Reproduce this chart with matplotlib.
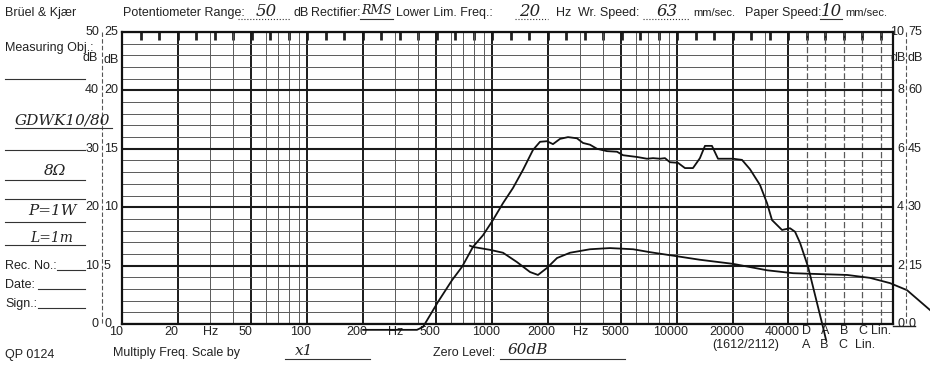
import numpy as np
import matplotlib
matplotlib.use('Agg')
import matplotlib.pyplot as plt
from matplotlib.lines import Line2D
from matplotlib.ticker import NullLocator
from matplotlib.transforms import blended_transform_factory, ScaledTranslation

plt.rcParams['font.family'] = ['Liberation Sans Narrow', 'Liberation Sans', 'DejaVu Sans']

# ---------------- data ----------------
resp_freq = [201, 393, 424, 511, 608, 689, 789, 894, 1012, 1147, 1299, 1471, 1665,
             1818, 1983, 2136, 2331, 2575, 2880, 3104, 3386, 3695, 4183, 4740, 5110,
             6080, 6880, 7420, 8090, 8610, 9160, 10120, 11040, 12200, 13300, 14160,
             15450, 16660, 20080, 22460, 24810, 28100, 30660, 32620, 36950, 40820,
             43450, 46240, 51100, 61500, 63900]
resp_db = [-1.0, -1.0, -0.5, 3.8, 7.5, 9.8, 13.2, 15.2, 17.8, 20.7, 23.3, 26.4, 29.8,
           31.2, 31.3, 30.8, 31.7, 32.0, 31.8, 31.0, 30.7, 30.0, 29.6, 29.5, 28.9,
           28.6, 28.3, 28.4, 28.3, 28.4, 27.7, 27.6, 26.7, 26.7, 28.4, 30.5,
           30.5, 28.3, 28.3, 28.1, 26.5, 23.8, 20.7, 17.8, 16.1, 16.4,
           15.8, 13.9, 9.8, -0.5, -2.7]

lower_freq = [760, 789, 975, 1147, 1365, 1605, 1772, 1983, 2247, 2640, 3386, 4340,
              5790, 7140, 10000, 13300, 20080, 30660, 42400, 52400, 83000, 110500,
              141700, 175000, 233000]
lower_db = [13.4, 13.2, 12.7, 12.2, 10.6, 8.9, 8.4, 9.6, 11.3, 12.2, 12.8, 13.0,
            12.8, 12.3, 11.6, 11.0, 10.3, 9.2, 8.7, 8.6, 8.4, 7.9,
            7.0, 5.8, 2.4]

freq_ticks = [10, 20, 50, 100, 200, 500, 1000, 2000, 5000, 10000, 20000, 40000]
freq_labels = ['10', '20', '50', '100', '200', '500', '1000', '2000', '5000',
               '10000', '20000', '40000']
hz_marks = [30, 300, 3000]
weight_labels = ['D', 'A', 'B', 'C', 'Lin.']
left_db = [0, 10, 20, 30, 40, 50]
left_db_alt = [0, 5, 10, 15, 20, 25]
right_a = [0, 2, 4, 6, 8, 10]
right_b = [0, 15, 30, 45, 60, 75]

# ---------------- figure layout ----------------
W, H = 930, 371
fig = plt.figure(figsize=(W / 100, H / 100), dpi=100)
fig.patch.set_facecolor('white')

def fx(x):
    return x / W

def fy(y):
    return 1 - y / H

ax = fig.add_axes([fx(122), fy(324), (893 - 122) / W, (324 - 32) / H])
ax.set_xscale('log')
x_max = 1000 * 10 ** ((893 - 492) / 185)
ax.set_xlim(10, x_max)
ax.set_ylim(0, 50)
ax.xaxis.set_minor_locator(NullLocator())
ax.set_xticks([])
ax.set_yticks([])
for s in ax.spines.values():
    s.set_linewidth(1.6)
    s.set_color('#111111')

GRID_DARK = '#1a1a1a'
GRID_MID = '#5a5a5a'

# vertical grid
for d in [10, 100, 1000, 10000]:
    for m in range(1, 10):
        f = m * d
        if f > 40000:
            break
        major = m in (1, 2, 5) or f == 40000
        ax.axvline(f, color=GRID_DARK if major else GRID_MID,
                   lw=1.4 if major else 0.7, zorder=1)
weight_lines = 40000 * 10 ** (0.1 * np.arange(1, 6))
for f in weight_lines:
    ax.axvline(f, color=GRID_MID, lw=0.9, ls=(0, (5, 2)), zorder=1)

# horizontal grid
for v in range(0, 51, 2):
    ax.axhline(v, color=GRID_MID, lw=0.7, zorder=1)
for v in range(0, 51, 10):
    ax.axhline(v, color=GRID_DARK, lw=1.5, zorder=1)

# sprocket marks along the top edge
top = ax.secondary_xaxis('top')
top.set_xticks(10 ** (1 + np.arange(1, 42) / 10))
top.xaxis.set_minor_locator(NullLocator())
top.set_xticklabels([])
top.tick_params(direction='in', length=6, width=2.0, color='#222222')
top.spines['top'].set_visible(False)

# curves
ax.plot(resp_freq, resp_db, color='#111111', lw=1.3, clip_on=False, zorder=5)
ax.plot(lower_freq, lower_db, color='#111111', lw=1.3, clip_on=False, zorder=5)

# ---------------- scale labels ----------------
FS = 9
tl = blended_transform_factory(fig.transFigure, ax.transData)
for a, b in zip(left_db, left_db_alt):
    ax.text(fx(99), a, str(a), transform=tl, ha='right', va='center', fontsize=FS, color='#222')
    ax.text(fx(104), a, str(b), transform=tl, ha='left', va='center', fontsize=FS, color='#222')
for pos, a, b in zip(left_db, right_a, right_b):
    ax.text(fx(904), pos, str(a), transform=tl, ha='right', va='center', fontsize=FS, color='#222')
    ax.text(fx(908), pos, str(b), transform=tl, ha='left', va='center', fontsize=FS, color='#222')
ax.text(fx(98), 45.5, 'dB', transform=tl, ha='right', va='center', fontsize=FS, color='#222')
ax.text(fx(103), 45.2, 'dB', transform=tl, ha='left', va='center', fontsize=FS, color='#222')
ax.text(fx(906), 45.5, 'dB', transform=tl, ha='right', va='center', fontsize=FS, color='#222')
ax.text(fx(907), 45.5, 'dB', transform=tl, ha='left', va='center', fontsize=FS, color='#222')

# scale bars beside the labels
for xx in (101.5, 905.5):
    fig.add_artist(Line2D([fx(xx), fx(xx)], [fy(32), fy(324)], transform=fig.transFigure,
                          color='#555', lw=0.8, ls=(0, (4, 2))))

# frequency labels (row 1)
bl = blended_transform_factory(ax.transData, fig.transFigure)
shift = ScaledTranslation(-6 / 100, 0, fig.dpi_scale_trans)
for f, lab in zip(freq_ticks, freq_labels):
    ax.text(f, fy(332), lab, transform=bl + shift, ha='center', va='center',
            fontsize=FS, color='#222')
for f in hz_marks:
    ax.text(f, fy(332), 'Hz', transform=bl, ha='center', va='center', fontsize=FS, color='#222')
for f, lab in zip(weight_lines, weight_labels):
    ax.text(f, fy(331), lab, transform=bl, ha='center', va='center', fontsize=FS, color='#222')

# bottom strip
fig.add_artist(Line2D([fx(893), fx(915)], [fy(326), fy(326)], transform=fig.transFigure,
                      color='#222', lw=1.0))

def label(x, y, s, ha='left', fs=FS):
    fig.text(fx(x), fy(y), s, ha=ha, va='center', fontsize=fs, color='#222')

def hand(x, y, s, fs=12):
    fig.text(fx(x), fy(y), s, ha='center', va='center', fontsize=fs, color='#222',
             family='DejaVu Serif', style='italic')

def rule(x0, x1, y, ls='-'):
    fig.add_artist(Line2D([fx(x0), fx(x1)], [fy(y), fy(y)], transform=fig.transFigure,
                          color='#333', lw=0.8, ls=ls))

# header line
label(5, 13, 'Brüel & Kjær')
label(123, 13, 'Potentiometer Range:')
rule(238, 290, 19, ':')
hand(266, 11, '50')
label(293, 13, 'dB')
label(311, 13, 'Rectifier:')
rule(360, 393, 19, '-')
hand(377, 11, 'RMS', fs=9)
label(396, 13, 'Lower Lim. Freq.:')
rule(515, 548, 19, ':')
hand(530, 11, '20')
label(556, 13, 'Hz')
label(578, 13, 'Wr. Speed:')
rule(643, 690, 19, ':')
hand(667, 11, '63')
label(693, 13, 'mm/sec.', fs=8)
label(745, 13, 'Paper Speed:')
rule(820, 842, 19, '-')
hand(831, 11, '10')
label(845, 13, 'mm/sec.', fs=8)

# left info block
label(5, 48, 'Measuring Obj.:')
rule(5, 85, 79, '-')
hand(62, 121, 'GDWK10/80', fs=11)
rule(15, 112, 128, '-')
rule(5, 85, 150, '-')
hand(55, 171, '8Ω', fs=11)
rule(5, 85, 180, '-')
rule(5, 85, 199, '-')
hand(52, 211, 'P=1W', fs=11)
rule(5, 85, 222, '-')
hand(52, 238, 'L=1m', fs=10)
rule(5, 85, 245, '-')
label(5, 266, 'Rec. No.:')
rule(57, 85, 270, '-')
label(5, 285, 'Date:')
rule(38, 85, 289, '-')
label(5, 304, 'Sign.:')
rule(38, 85, 308, '-')
label(5, 355, 'QP 0124')

# bottom line
label(113, 353, 'Multiply Freq. Scale by')
rule(285, 370, 359, '-')
hand(304, 351, 'x1', fs=11)
label(433, 353, 'Zero Level:')
rule(500, 625, 359, '-')
hand(528, 350, '60dB', fs=11)
label(712, 345, '(1612/2112)')
label(802, 345, 'A   B   C  Lin.')

fig.savefig('out.png', dpi=100, facecolor='white')
